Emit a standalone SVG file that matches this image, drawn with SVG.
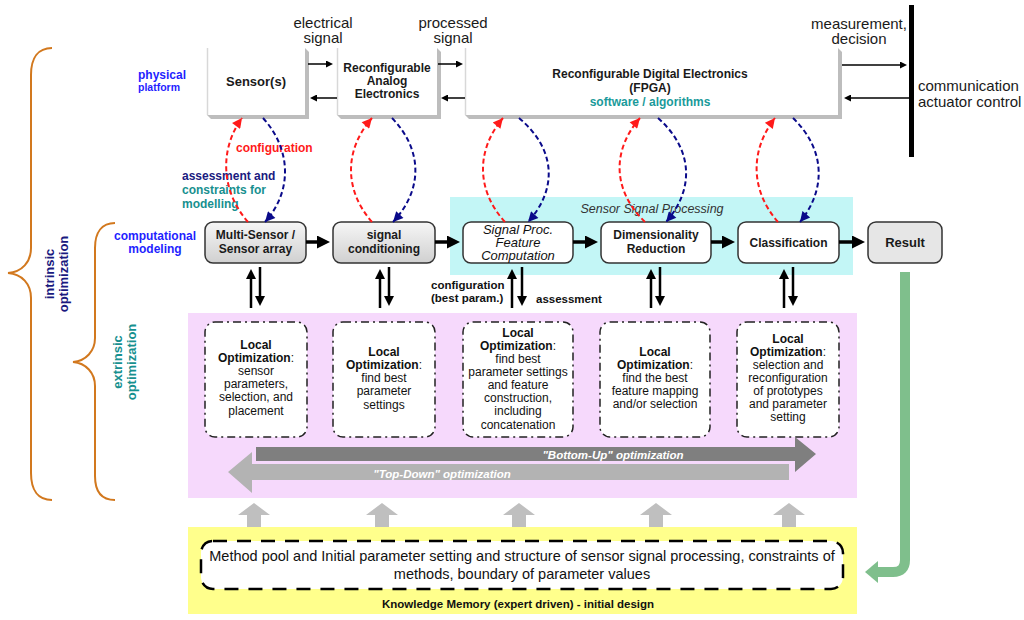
<svg xmlns="http://www.w3.org/2000/svg" width="1024" height="620" viewBox="0 0 1024 620">
<style>
text{font-family:"Liberation Sans",Arial,sans-serif;}
.r15{font-size:15px;fill:#1a1a1a;}
.b12{font-size:12px;font-weight:bold;fill:#1a1a1a;}
.b13{font-size:13px;font-weight:bold;fill:#1a1a1a;}
.it13{font-size:13px;font-style:italic;fill:#111;}
.loc{font-size:12px;fill:#111;text-anchor:middle;}
.locb{font-weight:bold;}
.mid{text-anchor:middle;}
.bevel{fill:#bdbdbd;}
.front{fill:#ffffff;}
.fedge{stroke:#d8d8d8;stroke-width:1.5;}
.gbox{fill:url(#gBox);stroke:#333;stroke-width:1.5;}
.wbox{fill:#ffffff;stroke:#333;stroke-width:1.5;}
.lopt{fill:#ffffff;stroke:#222;stroke-width:1.5;stroke-dasharray:8 4 2 4;}
.thin{stroke:#000;stroke-width:1.5;fill:none;marker-end:url(#ahSm);}
.big{stroke:#000;stroke-width:3.5;fill:none;marker-end:url(#ahBig);}
.bid{stroke:#000;stroke-width:2.5;fill:none;marker-end:url(#ahMid);}
.cfg{stroke:#ff1a1a;stroke-width:2;fill:none;stroke-dasharray:5 3;marker-end:url(#ahRed);}
.asm{stroke:#0a0a8a;stroke-width:2;fill:none;stroke-dasharray:5 3;marker-end:url(#ahBlue);}
.brace{stroke:#d2781e;stroke-width:2;fill:none;}
.up{fill:#bfbfbf;}
</style>
<defs>
<linearGradient id="gBox" x1="0" y1="0" x2="0" y2="1"><stop offset="0" stop-color="#f6f6f6"/><stop offset="1" stop-color="#d0d0d0"/></linearGradient>
<marker id="ahSm" viewBox="0 0 10 10" refX="0" refY="5" markerWidth="9" markerHeight="7" markerUnits="userSpaceOnUse" orient="auto"><path d="M0,0 L10,5 L0,10 z" fill="#000"/></marker>
<marker id="ahBig" viewBox="0 0 10 10" refX="0" refY="5" markerWidth="16" markerHeight="13" markerUnits="userSpaceOnUse" orient="auto"><path d="M0,0 L10,5 L0,10 z" fill="#000"/></marker>
<marker id="ahMid" viewBox="0 0 10 10" refX="0" refY="5" markerWidth="12" markerHeight="10" markerUnits="userSpaceOnUse" orient="auto"><path d="M0,0 L10,5 L0,10 z" fill="#000"/></marker>
<marker id="ahRed" viewBox="0 0 10 10" refX="10" refY="5" markerWidth="12" markerHeight="10" markerUnits="userSpaceOnUse" orient="auto"><path d="M0,0 L10,5 L0,10 z" fill="#ff1a1a"/></marker>
<marker id="ahBlue" viewBox="0 0 10 10" refX="10" refY="5" markerWidth="12" markerHeight="10" markerUnits="userSpaceOnUse" orient="auto"><path d="M0,0 L10,5 L0,10 z" fill="#0a0a8a"/></marker>
</defs>
<rect width="1024" height="620" fill="#ffffff"/>

<!-- background regions -->
<g id="regions">
<rect x="450" y="197" width="403" height="78" fill="#c3f6f6"/>
<text x="652" y="213" class="mid" style="font-size:12.5px;font-style:italic;fill:#333;">Sensor Signal Processing</text>
<rect x="188" y="313" width="669" height="185" fill="#f6d9fc"/>
<rect x="188" y="527" width="669" height="87" fill="#ffff8c"/>
</g>

<!-- braces and side labels -->
<g id="labels">
<path class="brace" d="M52,48 C38,48 31,58 31,75 L31,248 C31,262 22,272 8,273 C22,274 31,284 31,298 L31,473 C31,490 38,500 52,500"/>
<path class="brace" d="M115,223 C102,223 95,232 95,248 L95,338 C95,351 86,361 73,362 C86,363 95,373 95,386 L95,476 C95,492 102,500 115,500"/>
<g transform="translate(0,274) rotate(-90)">
<text x="0" y="54" class="mid" style="font-size:13px;font-weight:bold;fill:#1a1a80;">intrinsic</text>
<text x="0" y="68" class="mid" style="font-size:13px;font-weight:bold;fill:#1a1a80;">optimization</text>
</g>
<g transform="translate(0,362) rotate(-90)">
<text x="0" y="122" class="mid" style="font-size:13px;font-weight:bold;fill:#17908f;">extrinsic</text>
<text x="0" y="136" class="mid" style="font-size:13px;font-weight:bold;fill:#17908f;">optimization</text>
</g>
<text x="138" y="79" style="font-size:12px;font-weight:bold;fill:#1f1fff;">physical</text>
<text x="138" y="91" style="font-size:10.5px;font-weight:bold;fill:#1f1fff;">platform</text>
<text x="155" y="240" class="mid" style="font-size:12px;font-weight:bold;fill:#1f1fff;">computational</text>
<text x="155" y="253" class="mid" style="font-size:12px;font-weight:bold;fill:#1f1fff;">modeling</text>
<text x="323" y="28" class="r15 mid">electrical</text>
<text x="323" y="43" class="r15 mid">signal</text>
<text x="453" y="28" class="r15 mid">processed</text>
<text x="453" y="43" class="r15 mid">signal</text>
<text x="859" y="29" class="r15 mid">measurement,</text>
<text x="859" y="44" class="r15 mid">decision</text>
<text x="918" y="91" class="r15">communication</text>
<text x="918" y="107" class="r15">actuator control</text>
<text x="236" y="152" style="font-size:12px;font-weight:bold;fill:#ff1a1a;">configuration</text>
<text x="182" y="180" style="font-size:12px;font-weight:bold;fill:#1a1a80;">assessment and</text>
<text x="182" y="194" style="font-size:12px;font-weight:bold;fill:#17908f;">constraints for</text>
<text x="182" y="208" style="font-size:12px;font-weight:bold;fill:#17908f;">modelling</text>
<text x="431" y="289" style="font-size:11.5px;font-weight:bold;fill:#111;">configuration</text>
<text x="431" y="302" style="font-size:11.5px;font-weight:bold;fill:#111;">(best param.)</text>
<text x="536" y="303" style="font-size:11.5px;font-weight:bold;fill:#111;">assessment</text>
</g>

<!-- physical platform nodes -->
<g id="sensor">
<polygon class="bevel" points="305,48 309,52 309,119 211,119 207,115 305,115"/>
<rect class="front" x="207" y="48" width="98" height="67"/>
<line class="fedge" x1="207.5" y1="48" x2="207.5" y2="115"/>
<text x="256" y="86" class="b13 mid">Sensor(s)</text>
</g>
<g id="analog">
<polygon class="bevel" points="437,48 441,52 441,119 341,119 337,115 437,115"/>
<rect class="front" x="337" y="48" width="100" height="67"/>
<line class="fedge" x1="337.5" y1="48" x2="337.5" y2="115"/>
<text x="387" y="72" class="b12 mid">Reconfigurable</text>
<text x="387" y="85" class="b12 mid">Analog</text>
<text x="387" y="98" class="b12 mid">Electronics</text>
</g>
<g id="fpga">
<polygon class="bevel" points="838,48 842,52 842,119 469,119 465,115 838,115"/>
<rect class="front" x="465" y="48" width="373" height="67"/>
<line class="fedge" x1="465.5" y1="48" x2="465.5" y2="115"/>
<text x="650" y="78" class="b12 mid">Reconfigurable Digital Electronics</text>
<text x="650" y="92" class="b12 mid">(FPGA)</text>
<text x="650" y="106" class="mid" style="font-size:12px;font-weight:bold;fill:#1a9a9a;">software / algorithms</text>
</g>
<g id="bus">
<rect x="909" y="5" width="5" height="152" fill="#000"/>
</g>

<!-- computational nodes -->
<g id="multisensor">
<rect class="gbox" x="205" y="222" width="101" height="41" rx="8"/>
<text x="255.5" y="239" class="b12 mid">Multi-Sensor /</text>
<text x="255.5" y="253" class="b12 mid">Sensor array</text>
</g>
<g id="conditioning">
<rect class="gbox" x="333" y="222" width="102" height="41" rx="8"/>
<text x="384" y="239" class="b12 mid">signal</text>
<text x="384" y="253" class="b12 mid">conditioning</text>
</g>
<g id="feature">
<rect class="wbox" x="463" y="222" width="110" height="41" rx="8"/>
<text x="518" y="234" class="it13 mid">Signal Proc.</text>
<text x="518" y="247" class="it13 mid">Feature</text>
<text x="518" y="260" class="it13 mid">Computation</text>
</g>
<g id="dimred">
<rect class="wbox" x="601" y="222" width="110" height="41" rx="8"/>
<text x="656" y="239" class="b12 mid">Dimensionality</text>
<text x="656" y="253" class="b12 mid">Reduction</text>
</g>
<g id="classification">
<rect class="wbox" x="738" y="222" width="101" height="41" rx="8"/>
<text x="788.5" y="246.5" class="b12 mid">Classification</text>
</g>
<g id="result">
<rect x="868" y="222" width="74" height="41" rx="8" fill="#e6e6e6" stroke="#333" stroke-width="1.5"/>
<text x="905" y="247" class="b13 mid">Result</text>
</g>

<!-- local optimization nodes -->
<g id="local1">
<rect class="lopt" x="205" y="322" width="102" height="115" rx="10"/>
<text class="loc" x="256"><tspan x="256" y="349" class="locb">Local</tspan><tspan x="256" y="362"><tspan class="locb">Optimization</tspan>:</tspan><tspan x="256" y="375">sensor</tspan><tspan x="256" y="388">parameters,</tspan><tspan x="256" y="401">selection, and</tspan><tspan x="256" y="415">placement</tspan></text>
</g>
<g id="local2">
<rect class="lopt" x="333" y="322" width="102" height="115" rx="10"/>
<text class="loc" x="384"><tspan x="384" y="356" class="locb">Local</tspan><tspan x="384" y="369"><tspan class="locb">Optimization</tspan>:</tspan><tspan x="384" y="382">find best</tspan><tspan x="384" y="395">parameter</tspan><tspan x="384" y="409">settings</tspan></text>
</g>
<g id="local3">
<rect class="lopt" x="463" y="322" width="110" height="115" rx="10"/>
<text class="loc" x="518"><tspan x="518" y="337" class="locb">Local</tspan><tspan x="518" y="350"><tspan class="locb">Optimization</tspan>:</tspan><tspan x="518" y="363">find best</tspan><tspan x="518" y="376">parameter settings</tspan><tspan x="518" y="389">and feature</tspan><tspan x="518" y="402">construction,</tspan><tspan x="518" y="415">including</tspan><tspan x="518" y="429">concatenation</tspan></text>
</g>
<g id="local4">
<rect class="lopt" x="600" y="322" width="110" height="115" rx="10"/>
<text class="loc" x="655"><tspan x="655" y="356" class="locb">Local</tspan><tspan x="655" y="369"><tspan class="locb">Optimization</tspan>:</tspan><tspan x="655" y="382">find the best</tspan><tspan x="655" y="395">feature mapping</tspan><tspan x="655" y="408">and/or selection</tspan></text>
</g>
<g id="local5">
<rect class="lopt" x="737" y="322" width="102" height="115" rx="10"/>
<text class="loc" x="788"><tspan x="788" y="343" class="locb">Local</tspan><tspan x="788" y="356"><tspan class="locb">Optimization</tspan>:</tspan><tspan x="788" y="369">selection and</tspan><tspan x="788" y="382">reconfiguration</tspan><tspan x="788" y="395">of prototypes</tspan><tspan x="788" y="408">and parameter</tspan><tspan x="788" y="421">setting</tspan></text>
</g>

<!-- optimization direction arrows -->
<g id="directions">
<polygon fill="#b3b3b3" points="789,464 789,480 252,480 252,493 228,472 252,452 252,464"/>
<polygon fill="#7f7f7f" points="256,447 795,447 795,437 816,454 795,472 795,461 256,461"/>
<text x="613" y="459" class="mid" style="font-size:11.5px;font-weight:bold;font-style:italic;fill:#ffffff;">"Bottom-Up" optimization</text>
<text x="442" y="478" class="mid" style="font-size:11.5px;font-weight:bold;font-style:italic;fill:#ffffff;">"Top-Down" optimization</text>
</g>

<!-- knowledge memory -->
<g id="knowledge">
<rect x="201" y="541" width="642" height="48" rx="12" fill="#ffffff" stroke="#000" stroke-width="2.5" stroke-dasharray="14 10"/>
<text x="522" y="561" class="mid" style="font-size:14.5px;fill:#111;">Method pool and Initial parameter setting and structure of sensor signal processing, constraints of</text>
<text x="522" y="579" class="mid" style="font-size:14.5px;fill:#111;">methods, boundary of parameter values</text>
<text x="518" y="608" class="mid" style="font-size:11.5px;font-weight:bold;fill:#111;">Knowledge Memory (expert driven) - initial design</text>
</g>

<!-- connectors -->
<g id="connectors">
<path class="thin" d="M308,64 H326"/>
<path class="thin" d="M337,98 H317"/>
<path class="thin" d="M438,64 H456"/>
<path class="thin" d="M465,98 H448"/>
<path class="thin" d="M842,65 H900"/>
<path class="thin" d="M909,98 H851"/>

<path class="big" d="M306,242 H317"/>
<path class="big" d="M435,242 H447"/>
<path class="big" d="M573,242 H585"/>
<path class="big" d="M711,242 H722"/>
<path class="big" d="M839,242 H852"/>

<path class="bid" d="M251,308 V279"/><path class="bid" d="M260,267 V296"/>
<path class="bid" d="M380,308 V279"/><path class="bid" d="M389,267 V296"/>
<path class="bid" d="M512,308 V279"/><path class="bid" d="M522,267 V296"/>
<path class="bid" d="M651,308 V279"/><path class="bid" d="M660,267 V296"/>
<path class="bid" d="M784,308 V279"/><path class="bid" d="M793,267 V296"/>

<path class="cfg" d="M248,222 C220,190 220,148 242,118"/>
<path class="asm" d="M263,118 C292,150 292,192 265,222"/>
<path class="cfg" d="M372,222 C344,190 344,150 372,118"/>
<path class="asm" d="M392,118 C423,150 423,190 393,222"/>
<path class="cfg" d="M505,222 C476,190 476,150 503,118"/>
<path class="asm" d="M519,118 C557,150 557,190 528,222"/>
<path class="cfg" d="M645,222 C612,190 612,150 640,118"/>
<path class="asm" d="M658,118 C694,150 694,190 666,222"/>
<path class="cfg" d="M778,222 C750,190 750,150 775,118"/>
<path class="asm" d="M793,118 C826,150 826,190 800,222"/>

<polygon class="up" points="254,503 270,515 261,515 261,527 247,527 247,515 238,515"/>
<polygon class="up" points="382,503 398,515 389,515 389,527 375,527 375,515 366,515"/>
<polygon class="up" points="519,503 535,515 526,515 526,527 512,527 512,515 503,515"/>
<polygon class="up" points="656,503 672,515 663,515 663,527 649,527 649,515 640,515"/>
<polygon class="up" points="789,503 805,515 796,515 796,527 782,527 782,515 773,515"/>

<path d="M905,272 V560 Q905,572 893,572 H877" stroke="#7fbf8c" stroke-width="10" fill="none"/>
<polygon points="878,561 878,583 865,572" fill="#7fbf8c"/>
</g>
</svg>
